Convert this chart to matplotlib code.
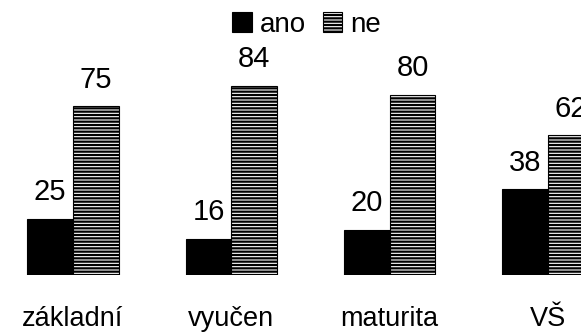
import numpy as np
import matplotlib
matplotlib.use('Agg')
import matplotlib.pyplot as plt

# vzdelani vs. odpoved (procenta)
kategorie = ['základní', 'vyučen', 'maturita', 'VŠ']
ano = [25, 16, 20, 38]
ne = [75, 84, 80, 62]

plt.rcParams['font.family'] = ['Liberation Sans', 'DejaVu Sans']
plt.rcParams['hatch.linewidth'] = 1.6
plt.rcParams['hatch.color'] = 'black'

fig = plt.figure(figsize=(5.81, 3.34), dpi=100)
ax = fig.add_axes([0, 59 / 334, 1, 275 / 334])

x = np.arange(len(kategorie))
w = 0.288
b1 = ax.bar(x - w / 2, ano, w, color='black', edgecolor='black', linewidth=0.8, label='ano')
b2 = ax.bar(x + w / 2, ne, w, color='white', edgecolor='black', linewidth=0.8,
            hatch='-----', label='ne')

for bars, vals in ((b1, ano), (b2, ne)):
    for r, v in zip(bars, vals):
        ax.annotate(str(v), (r.get_x() + r.get_width() / 2, r.get_height()),
                    xytext=(0, 9), textcoords='offset points',
                    ha='center', va='bottom', fontsize=21)

ax.set_xlim(-0.461, 3.208)
ax.set_ylim(0, 122.2)
ax.set_xticks(x)
ax.set_xticklabels(kategorie, fontsize=19.5)
ax.tick_params(axis='x', length=0, pad=22)
ax.set_yticks([])
for s in ax.spines.values():
    s.set_visible(False)

fig.legend(loc='upper center', bbox_to_anchor=(0.528, 1.04), ncol=2, frameon=False,
           fontsize=20, handlelength=0.7, handleheight=0.75,
           handletextpad=0.3, columnspacing=0.6)

fig.savefig('out.png', dpi=100)
